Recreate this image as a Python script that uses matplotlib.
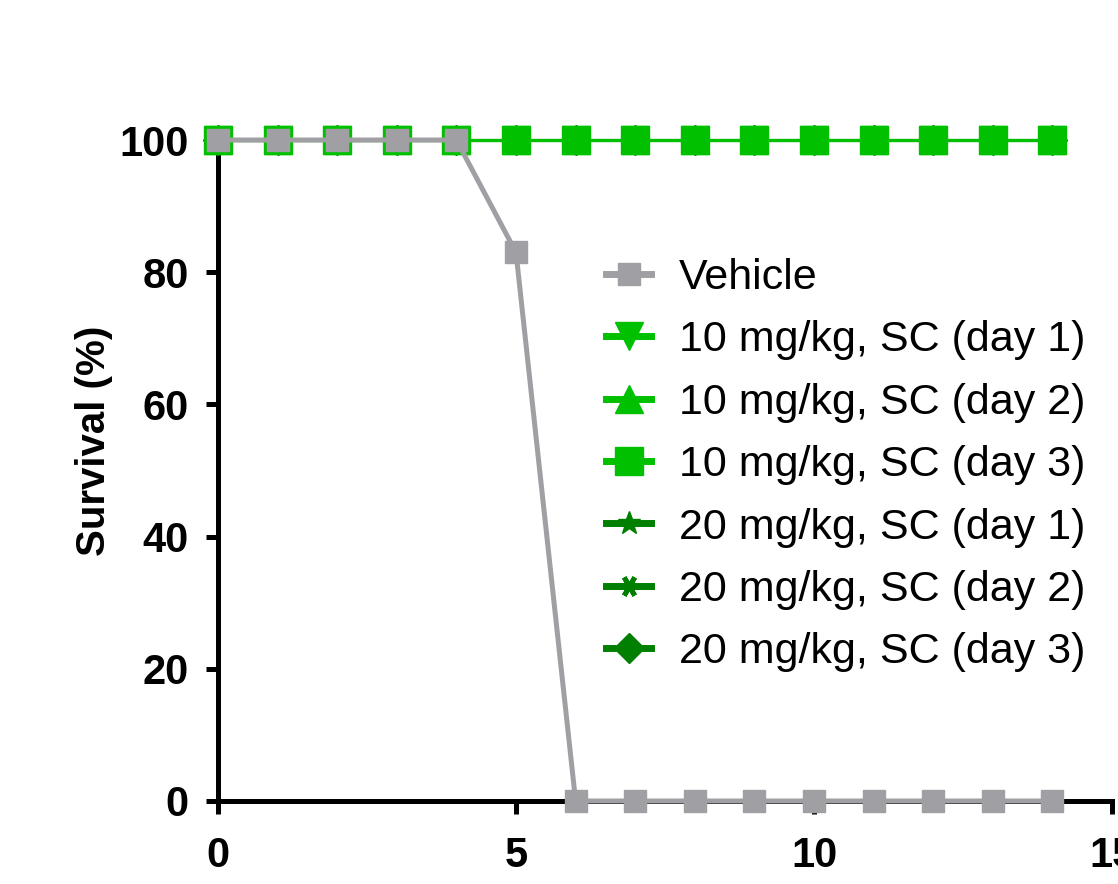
import matplotlib
matplotlib.use("Agg")
import matplotlib.pyplot as plt

plt.rcParams['font.family'] = ['Liberation Sans', 'DejaVu Sans']

days = list(range(0, 15))
vehicle = [100, 100, 100, 100, 100, 83, 0, 0, 0, 0, 0, 0, 0, 0, 0]
treated = [100] * 15

labels = ["Vehicle",
          "10 mg/kg, SC (day 1)",
          "10 mg/kg, SC (day 2)",
          "10 mg/kg, SC (day 3)",
          "20 mg/kg, SC (day 1)",
          "20 mg/kg, SC (day 2)",
          "20 mg/kg, SC (day 3)"]

c_gray = "#A0A0A4"
c_light = "#00C000"
c_dark = "#007F00"

fig = plt.figure(figsize=(11.18, 8.84), dpi=100)
ax = fig.add_axes([218 / 1118, 1 - 801 / 884, (1112 - 218) / 1118, (801 - 140) / 884])

# series drawn bottom-up so the squares end up on top, vehicle last
h_diam, = ax.plot(days, treated, color=c_dark, marker='D', markersize=15, lw=2.2, clip_on=False, zorder=3)
h_ast, = ax.plot(days, treated, color=c_dark, marker=(6, 2, 90), markersize=15, mew=3.5, lw=2.2, clip_on=False, zorder=3)
h_star, = ax.plot(days, treated, color=c_dark, marker='*', markersize=17, lw=2.2, clip_on=False, zorder=3)
h_tdown, = ax.plot(days, treated, color=c_light, marker='v', markersize=20, lw=2.2, clip_on=False, zorder=3)
h_tup, = ax.plot(days, treated, color=c_light, marker='^', markersize=20, lw=2.2, clip_on=False, zorder=3)
h_sq, = ax.plot(days, treated, color=c_light, marker='s', markersize=20, lw=2.2, clip_on=False, zorder=3)
h_veh, = ax.plot(days, vehicle, color=c_gray, marker='s', markersize=16.5, lw=3.6, clip_on=False, zorder=4)

ax.set_xlim(0, 15)
ax.set_ylim(0, 100)
ax.set_xticks([0, 5, 10, 15])
ax.set_yticks([0, 20, 40, 60, 80, 100])

for s in ['top', 'right']:
    ax.spines[s].set_visible(False)
for s in ['left', 'bottom']:
    ax.spines[s].set_linewidth(3.6)

ax.tick_params(direction='out', length=9, width=3.6, labelsize=30, pad=12)
ax.tick_params(axis='x', pad=16)
for lab in ax.get_xticklabels() + ax.get_yticklabels():
    lab.set_fontweight('bold')

ax.set_ylabel("Survival (%)", fontsize=29, fontweight='bold')
ax.yaxis.set_label_coords(-0.118, 0.545)

handles = [h_veh, h_tdown, h_tup, h_sq, h_star, h_ast, h_diam]
leg = ax.legend(handles, labels, loc='upper left', bbox_to_anchor=(606 / 1118, 1 - 258 / 884),
                bbox_transform=fig.transFigure, frameon=False, fontsize=31,
                handlelength=1.05, handletextpad=0.65, labelspacing=0.52, borderpad=0,
                borderaxespad=0)
# thicker lines in the legend keys
for ln in leg.get_lines():
    ln.set_linewidth(5)

fig.savefig("out.png", dpi=100)
